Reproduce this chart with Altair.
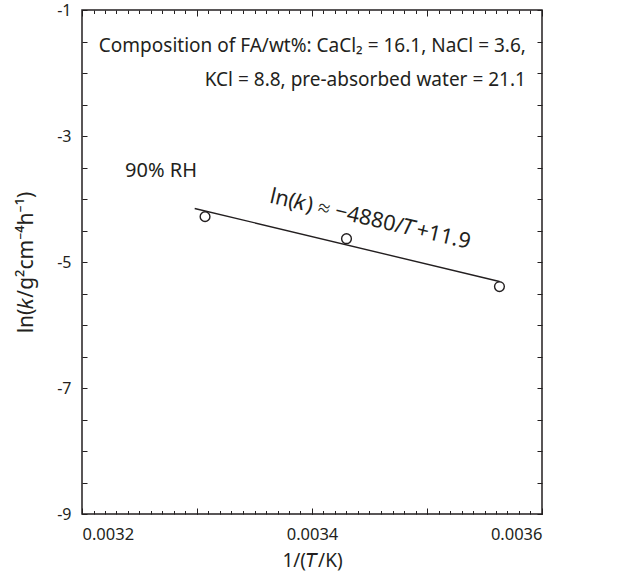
import altair as alt
import pandas as pd

# ---- data ----
inv_T = [0.003307, 0.003430, 0.003563]          # 1/(T/K)
ln_k = [-4.28, -4.63, -5.39]                    # ln(k)
fit_inv_T = [0.003298, 0.003563]                # fitted line ends
fit_ln_k = [-4.15, -5.31]

x_labels = [0.0032, 0.0034, 0.0036]
x_major = [0.0032, 0.0033, 0.0034, 0.0035, 0.0036]
x_minor = [round(0.0032 + i * 0.00001, 5) for i in range(41)]
y_labels = [-1, -3, -5, -7, -9]
y_ticks = [-9 + 0.5 * i for i in range(17)]

comp_text = "Composition of FA/wt%: CaCl\u2082 = 16.1, NaCl = 3.6,\nKCl = 8.8, pre-absorbed water = 21.1"
rh_text = "90% RH"
eq_text = "ln(\U0001D458) \u2248 \u22124880/\U0001D447+11.9"
x_title = "1/(\U0001D447/K)"
y_title = "ln(\U0001D458/g\u00b2cm\u207b\u2074h\u207b\u00b9)"

W, H = 460, 504
FONT = "Noto Sans"
INK = "#231f20"

pts = pd.DataFrame({"x": inv_T, "y": ln_k})
fit = pd.DataFrame({"x": fit_inv_T, "y": fit_ln_k})
one = pd.DataFrame({"k": [0]})

xs = alt.Scale(domain=[0.0032, 0.0036], nice=False, zero=False)
ys = alt.Scale(domain=[-9, -1], nice=False, zero=False)


def tick_axis(values, orient, offset, size):
    return alt.Axis(values=values, orient=orient, offset=offset, tickSize=size,
                    labels=False, domain=False, grid=False, title=None,
                    tickColor=INK, tickWidth=1)


# layer 1: fitted line with labelled axes
line = alt.Chart(fit).mark_line(color=INK, strokeWidth=1.4).encode(
    x=alt.X("x:Q", scale=xs, axis=alt.Axis(
        values=x_labels, format=".4f", orient="bottom", ticks=False, domain=False,
        grid=False, labelFont=FONT, labelFontSize=16.5, labelColor=INK, labelPadding=12,
        title=x_title, titleFont=FONT, titleFontSize=19, titleFontWeight="normal",
        titleColor=INK, titlePadding=9)),
    y=alt.Y("y:Q", scale=ys, axis=alt.Axis(
        values=y_labels, labelExpr="'' + datum.value", orient="left", ticks=False,
        domain=False, grid=False, labelFont=FONT, labelFontSize=16, labelColor=INK,
        labelPadding=11, title=y_title, titleFont=FONT, titleFontSize=21,
        titleFontWeight="normal", titleColor=INK, titlePadding=20)),
)

# layer 2: points; inward ticks bottom (major) and left
points = alt.Chart(pts).mark_point(shape="circle", filled=False, color=INK,
                                   size=95, strokeWidth=1.4, opacity=1).encode(
    x=alt.X("x:Q", scale=xs, axis=tick_axis(x_major, "top", -H, 6)),
    y=alt.Y("y:Q", scale=ys, axis=tick_axis(y_ticks, "right", -W, 5)),
)

# layer 3: bottom minor ticks and right ticks
ghost3 = alt.Chart(pts).mark_point(opacity=0).encode(
    x=alt.X("x:Q", scale=xs, axis=tick_axis(x_minor, "top", -H, 3.5)),
    y=alt.Y("y:Q", scale=ys, axis=tick_axis(y_ticks, "left", -W, 5)),
)

# layer 4: top major ticks
ghost4 = alt.Chart(pts).mark_point(opacity=0).encode(
    x=alt.X("x:Q", scale=xs, axis=tick_axis(x_major, "bottom", -H, 6)),
    y=alt.Y("y:Q", scale=ys, axis=None),
)

# layer 5: top minor ticks
ghost5 = alt.Chart(pts).mark_point(opacity=0).encode(
    x=alt.X("x:Q", scale=xs, axis=tick_axis(x_minor, "bottom", -H, 3.5)),
    y=alt.Y("y:Q", scale=ys, axis=None),
)

comp = alt.Chart(one).mark_text(font=FONT, fontSize=19, color=INK, align="right",
                                baseline="alphabetic", lineBreak="\n", lineHeight=34).encode(
    x=alt.XDatum(0.003586, scale=xs, axis=None),
    y=alt.YDatum(-1.67, scale=ys, axis=None),
    text=alt.value(comp_text),
)

rh = alt.Chart(one).mark_text(font=FONT, fontSize=20, color=INK, align="left",
                              baseline="middle").encode(
    x=alt.XDatum(0.0032374, scale=xs, axis=None),
    y=alt.YDatum(-3.55, scale=ys, axis=None),
    text=alt.value(rh_text),
)

eq = alt.Chart(one).mark_text(font=FONT, fontSize=21.5, color=INK, align="center",
                              baseline="middle", angle=13).encode(
    x=alt.XDatum(0.0034505, scale=xs, axis=None),
    y=alt.YDatum(-4.33, scale=ys, axis=None),
    text=alt.value(eq_text),
)

chart = alt.layer(line, points, ghost3, ghost4, ghost5, comp, rh, eq).resolve_axis(
    x="independent", y="independent"
).properties(
    width=W, height=H,
    padding={"left": 82, "top": 10, "right": 87, "bottom": 67},
    autosize=alt.AutoSizeParams(type="none"),
    background="white",
).configure_view(stroke=INK, strokeWidth=1.5)

chart.save("out.html", embed_options={"renderer": "svg", "actions": False})
